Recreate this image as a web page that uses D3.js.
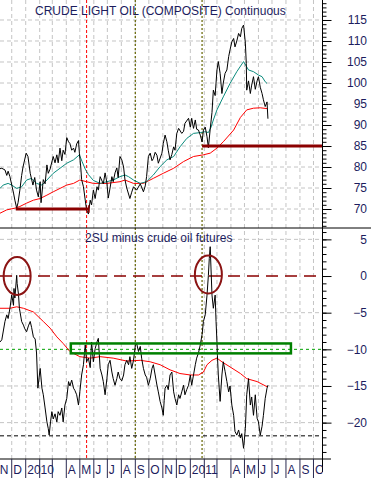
<!DOCTYPE html>
<html lang="en">
<head>
<meta charset="UTF-8">
<title>Crude light oil and 2SU minus crude</title>
<style>
  body { margin: 0; background: #fff; }
  svg text { font-family: 'Liberation Sans', Arial, Helvetica, sans-serif; font-size: 12px; fill: #1c1c5e; }
</style>
</head>
<body>
<div id="chart"></div>
<script src="https://d3js.org/d3.v7.min.js"></script>
<script>
// ---- data ----
var crudePrice = [
  ["2009-11-05",79.6],["2009-11-09",79.7],["2009-11-16",79.3],["2009-11-20",78.0],["2009-11-23",79.0],["2009-11-27",77.7],
  ["2009-12-05",73.8],["2009-12-08",72.1],["2009-12-12",70.2],["2009-12-15",71.5],["2009-12-19",74.5],["2009-12-23",78.0],
  ["2009-12-26",80.0],["2010-01-02",83.3],["2010-01-06",82.5],["2010-01-11",78.5],["2010-01-17",75.7],["2010-01-21",77.5],
  ["2010-01-25",74.5],["2010-01-29",72.9],["2010-02-02",76.5],["2010-02-04",71.5],["2010-02-09",77.0],["2010-02-13",76.0],
  ["2010-02-17",80.5],["2010-02-20",78.5],["2010-02-24",79.5],["2010-03-03",82.5],["2010-03-07",81.0],["2010-03-11",82.9],
  ["2010-03-14",81.0],["2010-03-18",84.5],["2010-03-22",81.5],["2010-03-25",84.0],["2010-03-29",83.0],["2010-04-02",87.0],
  ["2010-04-06",86.0],["2010-04-09",85.6],["2010-04-13",84.0],["2010-04-17",84.5],["2010-04-20",83.5],["2010-04-24",85.5],
  ["2010-04-28",86.3],["2010-04-30",83.3],["2010-05-03",80.0],["2010-05-05",77.0],["2010-05-09",75.3],["2010-05-13",72.1],
  ["2010-05-16",69.8],["2010-05-20",68.8],["2010-05-24",72.1],["2010-05-27",71.0],["2010-05-31",74.5],["2010-06-04",72.5],
  ["2010-06-08",75.3],["2010-06-11",74.5],["2010-06-15",77.7],["2010-06-22",76.0],["2010-06-26",78.6],["2010-06-30",76.2],
  ["2010-07-03",72.6],["2010-07-07",75.0],["2010-07-11",77.7],["2010-07-14",76.5],["2010-07-18",78.6],["2010-07-22",79.8],
  ["2010-07-25",77.5],["2010-07-29",82.5],["2010-08-02",81.7],["2010-08-06",80.0],["2010-08-09",77.0],["2010-08-13",75.0],
  ["2010-08-20",72.5],["2010-08-24",74.0],["2010-08-28",75.3],["2010-09-04",74.5],["2010-09-12",76.0],["2010-09-19",74.1],
  ["2010-09-23",75.5],["2010-09-26",77.7],["2010-09-30",82.5],["2010-10-04",83.3],["2010-10-08",81.5],["2010-10-11",82.0],
  ["2010-10-15",83.5],["2010-10-19",82.8],["2010-10-22",80.9],["2010-10-30",83.3],["2010-11-02",85.6],["2010-11-06",87.6],
  ["2010-11-10",86.0],["2010-11-13",84.0],["2010-11-17",81.7],["2010-11-21",83.0],["2010-11-25",84.8],["2010-11-28",84.0],
  ["2010-12-02",88.0],["2010-12-06",89.2],["2010-12-13",88.0],["2010-12-17",88.5],["2010-12-20",90.4],["2010-12-28",91.6],
  ["2011-01-01",89.5],["2011-01-04",91.6],["2011-01-08",89.2],["2011-01-12",91.2],["2011-01-15",89.0],["2011-01-19",88.8],
  ["2011-01-23",87.6],["2011-01-27",86.0],["2011-01-30",88.8],["2011-02-03",89.5],["2011-02-07",87.2],["2011-02-10",84.6],
  ["2011-02-14",89.0],["2011-02-18",93.0],["2011-02-21",98.3],["2011-02-25",97.0],["2011-03-01",103.1],["2011-03-04",105.1],
  ["2011-03-08",102.3],["2011-03-12",97.5],["2011-03-15",100.0],["2011-03-19",102.3],["2011-03-23",103.1],["2011-03-27",106.3],
  ["2011-03-30",107.9],["2011-04-03",109.8],["2011-04-07",110.6],["2011-04-10",108.6],["2011-04-14",110.0],["2011-04-18",111.8],
  ["2011-04-22",111.0],["2011-04-25",113.0],["2011-04-29",113.8],["2011-05-03",109.5],["2011-05-05",104.7],["2011-05-06",98.3],
  ["2011-05-10",100.5],["2011-05-14",97.5],["2011-05-17",99.5],["2011-05-21",101.5],["2011-05-25",98.5],["2011-05-29",100.5],
  ["2011-06-01",101.5],["2011-06-05",99.0],["2011-06-09",97.5],["2011-06-12",96.0],["2011-06-16",94.4],["2011-06-20",95.5],
  ["2011-06-22",91.5]
];

var crudeShortMA = [
  ["2009-11-05",74.9],["2009-11-12",75.7],["2009-11-23",76.1],["2009-12-01",75.7],["2009-12-12",74.9],["2009-12-23",75.3],
  ["2010-01-03",76.9],["2010-01-14",77.3],["2010-01-25",76.1],["2010-02-06",75.7],["2010-02-17",76.9],["2010-03-03",78.5],
  ["2010-03-18",79.7],["2010-04-02",80.9],["2010-04-17",81.7],["2010-04-30",82.9],["2010-05-06",81.3],["2010-05-13",79.5],
  ["2010-05-20",78.2],["2010-05-31",76.8],["2010-06-15",76.1],["2010-06-30",76.5],["2010-07-14",76.9],["2010-07-29",77.7],
  ["2010-08-09",78.1],["2010-08-17",77.7],["2010-08-28",76.9],["2010-09-12",76.1],["2010-09-26",76.5],["2010-10-11",78.1],
  ["2010-10-26",80.1],["2010-11-10",81.7],["2010-11-25",82.5],["2010-12-09",84.8],["2010-12-24",86.8],["2011-01-08",88.0],
  ["2011-01-23",88.2],["2011-02-03",88.4],["2011-02-10",88.2],["2011-02-16",89.5],["2011-02-21",91.2],["2011-03-01",93.6],
  ["2011-03-15",96.7],["2011-03-30",99.9],["2011-04-14",102.7],["2011-04-29",105.1],["2011-05-10",103.1],["2011-05-21",102.7],
  ["2011-06-01",101.9],["2011-06-09",101.5],["2011-06-16",100.3],["2011-06-20",99.9]
];

var crudeLongMA = [
  ["2009-11-05",69.0],["2009-11-20",69.8],["2009-12-08",70.2],["2009-12-19",70.6],["2010-01-03",71.4],["2010-01-18",72.1],
  ["2010-02-02",72.5],["2010-02-17",73.3],["2010-03-03",74.1],["2010-03-18",74.9],["2010-04-02",75.7],["2010-04-17",76.1],
  ["2010-05-01",76.9],["2010-05-16",76.5],["2010-05-31",76.1],["2010-06-30",76.1],["2010-07-29",76.5],["2010-08-09",76.9],
  ["2010-08-28",76.1],["2010-09-19",76.1],["2010-10-11",77.3],["2010-11-02",78.5],["2010-11-25",79.7],["2010-12-17",81.3],
  ["2011-01-08",82.5],["2011-01-30",82.9],["2011-02-14",83.3],["2011-03-01",84.5],["2011-03-15",86.0],["2011-04-07",88.8],
  ["2011-04-22",91.8],["2011-05-06",93.6],["2011-05-21",94.0],["2011-06-05",94.1],["2011-06-20",93.9]
];

var spread = [
  ["2009-11-05",-9.0],["2009-11-09",-8.7],["2009-11-16",-6.2],["2009-11-20",-5.3],["2009-11-23",-5.8],["2009-11-27",-4.4],
  ["2009-12-01",-2.6],["2009-12-05",-4.0],["2009-12-06",-1.7],["2009-12-08",-3.0],["2009-12-12",0.1],["2009-12-13",-1.0],
  ["2009-12-16",-2.5],["2009-12-18",-4.4],["2009-12-23",-6.2],["2009-12-27",-6.7],["2009-12-30",-7.2],["2010-01-03",-7.6],
  ["2010-01-07",-6.8],["2010-01-11",-6.2],["2010-01-14",-7.0],["2010-01-18",-8.3],["2010-01-22",-8.6],["2010-01-25",-10.5],
  ["2010-01-28",-15.3],["2010-02-02",-12.6],["2010-02-06",-15.3],["2010-02-09",-16.2],["2010-02-13",-18.0],["2010-02-17",-19.9],
  ["2010-02-20",-20.8],["2010-02-22",-21.7],["2010-02-25",-19.9],["2010-02-28",-18.5],["2010-03-03",-19.5],["2010-03-07",-18.8],
  ["2010-03-11",-19.9],["2010-03-14",-18.5],["2010-03-18",-19.0],["2010-03-22",-18.0],["2010-03-25",-19.9],["2010-03-29",-17.6],
  ["2010-04-02",-16.7],["2010-04-06",-14.4],["2010-04-09",-15.0],["2010-04-13",-14.2],["2010-04-17",-15.3],["2010-04-20",-15.6],
  ["2010-04-24",-16.2],["2010-04-28",-17.6],["2010-05-01",-15.8],["2010-05-05",-13.5],["2010-05-09",-12.1],["2010-05-13",-9.4],
  ["2010-05-16",-11.7],["2010-05-20",-11.2],["2010-05-24",-12.5],["2010-05-27",-9.0],["2010-05-31",-11.7],["2010-06-04",-9.9],
  ["2010-06-08",-9.0],["2010-06-11",-8.5],["2010-06-15",-12.6],["2010-06-19",-13.5],["2010-06-22",-14.4],["2010-06-26",-16.2],
  ["2010-06-30",-14.0],["2010-07-03",-12.1],["2010-07-07",-11.5],["2010-07-11",-13.1],["2010-07-14",-14.0],["2010-07-18",-14.9],
  ["2010-07-22",-14.0],["2010-07-25",-13.1],["2010-07-29",-14.0],["2010-08-02",-14.3],["2010-08-06",-13.5],["2010-08-09",-12.1],
  ["2010-08-13",-11.5],["2010-08-17",-12.1],["2010-08-20",-11.0],["2010-08-24",-12.6],["2010-08-28",-11.5],["2010-09-01",-9.5],
  ["2010-09-04",-9.2],["2010-09-08",-10.3],["2010-09-12",-9.6],["2010-09-15",-11.2],["2010-09-19",-12.6],["2010-09-23",-13.5],
  ["2010-09-26",-13.8],["2010-09-30",-14.9],["2010-10-04",-14.0],["2010-10-08",-12.6],["2010-10-11",-12.1],["2010-10-15",-13.5],
  ["2010-10-19",-14.9],["2010-10-22",-15.8],["2010-10-26",-17.1],["2010-10-30",-18.0],["2010-11-02",-19.0],["2010-11-04",-17.0],
  ["2010-11-06",-15.3],["2010-11-10",-14.9],["2010-11-13",-15.5],["2010-11-17",-13.5],["2010-11-21",-13.1],["2010-11-25",-15.8],
  ["2010-11-28",-16.7],["2010-12-02",-17.6],["2010-12-06",-16.2],["2010-12-09",-16.7],["2010-12-13",-15.8],["2010-12-17",-14.9],
  ["2010-12-20",-16.2],["2010-12-24",-15.5],["2010-12-28",-14.9],["2011-01-01",-13.5],["2011-01-04",-14.9],["2011-01-08",-13.5],
  ["2011-01-12",-12.1],["2011-01-15",-11.2],["2011-01-19",-10.5],["2011-01-23",-9.4],["2011-01-27",-8.0],["2011-01-30",-6.2],
  ["2011-02-03",-5.3],["2011-02-07",-2.6],["2011-02-10",0.1],["2011-02-12",2.4],["2011-02-14",4.0],["2011-02-18",-2.6],
  ["2011-02-21",-4.4],["2011-02-25",-2.6],["2011-02-27",-6.2],["2011-03-01",-9.0],["2011-03-02",-10.8],["2011-03-04",-13.5],
  ["2011-03-08",-17.1],["2011-03-12",-13.5],["2011-03-15",-11.7],["2011-03-19",-13.0],["2011-03-23",-14.4],["2011-03-27",-15.8],
  ["2011-03-30",-15.0],["2011-04-03",-17.6],["2011-04-07",-19.0],["2011-04-10",-21.2],["2011-04-14",-21.7],["2011-04-18",-21.0],
  ["2011-04-22",-22.1],["2011-04-25",-21.5],["2011-04-29",-23.5],["2011-05-03",-20.8],["2011-05-06",-16.2],["2011-05-10",-14.0],
  ["2011-05-14",-17.6],["2011-05-17",-16.5],["2011-05-21",-19.0],["2011-05-25",-16.2],["2011-05-29",-19.4],["2011-06-01",-19.9],
  ["2011-06-05",-21.7],["2011-06-09",-20.5],["2011-06-12",-19.0],["2011-06-16",-16.7],["2011-06-20",-15.3],["2011-06-22",-14.9]
];

var spreadMA = [
  ["2009-11-05",-4.4],["2009-11-27",-4.4],["2009-12-12",-4.2],["2009-12-27",-4.4],["2010-01-18",-4.9],["2010-02-09",-6.2],
  ["2010-02-24",-7.1],["2010-03-11",-8.3],["2010-03-25",-9.2],["2010-04-09",-10.3],["2010-05-01",-11.0],["2010-05-24",-11.2],
  ["2010-06-15",-11.0],["2010-07-14",-11.2],["2010-08-13",-11.6],["2010-09-12",-11.5],["2010-10-04",-11.7],["2010-10-26",-12.1],
  ["2010-11-17",-12.8],["2010-12-09",-13.3],["2011-01-01",-13.5],["2011-01-19",-13.5],["2011-01-30",-13.1],["2011-02-07",-12.1],
  ["2011-02-18",-11.5],["2011-03-01",-11.2],["2011-03-12",-11.7],["2011-03-30",-12.4],["2011-04-22",-13.3],["2011-05-06",-14.0],
  ["2011-05-29",-14.4],["2011-06-20",-15.1]
];

// axis ticks and month labels
var topTicks = [70, 75, 80, 85, 90, 95, 100, 105, 110, 115];
var bottomTicks = [-20, -15, -10, -5, 0, 5];
var monthLabels = ["N","D","2010","","","A","M","J","J","A","S","O","N","D","2011","","","A","M","J","J","A","S","O"];

// annotations
var supportLines = [["2009-12-10","2010-05-21",70], ["2011-01-27","2011-10-21",85]];
var markerDates = {red: ["2010-05-16"], olive: ["2010-09-01","2011-01-27"]};
var circledPeaks = [["2009-12-13",0], ["2011-02-10",0.2]];
var boxRange = ["2010-04-11","2011-08-12",-9.2,-10.55];
var levelZero = 0, levelTen = -10, levelLow = -21.8;

// ---- chart ----
var W = 371, H = 478, plotR = 322.5, midY = 228, botY = 459;
var parse = d3.timeParse("%Y-%m-%d");

var svg = d3.select("#chart").append("svg")
  .attr("width", W).attr("height", H);
svg.append("rect").attr("width", W).attr("height", H).attr("fill", "#fff");

svg.append("clipPath").attr("id", "plot")
  .append("rect").attr("x", 0).attr("y", 0).attr("width", plotR).attr("height", H);

var x = d3.scaleTime()
  .domain([parse("2009-11-05"), parse("2011-10-21")])
  .range([0, plotR]);
var yTop = d3.scaleLinear().domain([65.48, 119.76]).range([midY, 0]);
var yBot = d3.scaleLinear().domain([-24.96, 6.55]).range([botY, midY]);

var months = d3.timeMonth.range(parse("2009-11-01"), parse("2011-11-01"));
var plot = svg.append("g").attr("clip-path", "url(#plot)");

// grid
plot.selectAll(".vgrid").data(months).join("line")
  .attr("x1", d => x(d)).attr("x2", d => x(d))
  .attr("y1", 0).attr("y2", botY)
  .attr("stroke", "#c4c4c4").attr("stroke-dasharray", "4,3");
plot.selectAll(".hgridTop").data(topTicks).join("line")
  .attr("x1", 0).attr("x2", plotR)
  .attr("y1", d => yTop(d)).attr("y2", d => yTop(d))
  .attr("stroke", "#c4c4c4").attr("stroke-dasharray", "4,3");
plot.selectAll(".hgridBot").data([5, -5, -15, -20]).join("line")
  .attr("x1", 0).attr("x2", plotR)
  .attr("y1", d => yBot(d)).attr("y2", d => yBot(d))
  .attr("stroke", "#c4c4c4").attr("stroke-dasharray", "4,3");

// event markers
plot.selectAll(".redv").data(markerDates.red).join("line")
  .attr("x1", d => x(parse(d))).attr("x2", d => x(parse(d)))
  .attr("y1", 0).attr("y2", botY)
  .attr("stroke", "#ff0000").attr("stroke-dasharray", "3,2");
plot.selectAll(".olivev").data(markerDates.olive).join("line")
  .attr("x1", d => x(parse(d))).attr("x2", d => x(parse(d)))
  .attr("y1", 0).attr("y2", botY)
  .attr("stroke", "#6e6e10").attr("stroke-width", 1.3).attr("stroke-dasharray", "2,2");

// bottom panel reference lines
plot.append("line").attr("x1", 0).attr("x2", plotR)
  .attr("y1", yBot(levelZero)).attr("y2", yBot(levelZero))
  .attr("stroke", "#8b0000").attr("stroke-width", 1.3).attr("stroke-dasharray", "12,7");
plot.append("line").attr("x1", 0).attr("x2", plotR)
  .attr("y1", yBot(levelTen)).attr("y2", yBot(levelTen))
  .attr("stroke", "#00a000").attr("stroke-dasharray", "3,3");
plot.append("line").attr("x1", 0).attr("x2", plotR)
  .attr("y1", yBot(levelLow)).attr("y2", yBot(levelLow))
  .attr("stroke", "#000").attr("stroke-dasharray", "4,3");

// series
var lineTop = d3.line().x(d => x(parse(d[0]))).y(d => yTop(d[1]));
var lineBot = d3.line().x(d => x(parse(d[0]))).y(d => yBot(d[1]));

plot.append("path").datum(crudeLongMA).attr("d", lineTop)
  .attr("fill", "none").attr("stroke", "#ff0000");
plot.append("path").datum(crudeShortMA).attr("d", lineTop)
  .attr("fill", "none").attr("stroke", "#0b8a7c");
plot.append("path").datum(crudePrice).attr("d", lineTop)
  .attr("fill", "none").attr("stroke", "#000");

plot.append("path").datum(spreadMA).attr("d", lineBot)
  .attr("fill", "none").attr("stroke", "#ff0000");
plot.append("path").datum(spread).attr("d", lineBot)
  .attr("fill", "none").attr("stroke", "#000");

// support lines in top panel
plot.selectAll(".support").data(supportLines).join("line")
  .attr("x1", d => x(parse(d[0]))).attr("x2", d => Math.min(plotR, x(parse(d[1]))))
  .attr("y1", d => yTop(d[2])).attr("y2", d => yTop(d[2]))
  .attr("stroke", "#8b0000").attr("stroke-width", 3);
plot.append("line")
  .attr("x1", x(parse(supportLines[0][1]))).attr("x2", x(parse(supportLines[0][1])))
  .attr("y1", yTop(supportLines[0][2] + 0.9)).attr("y2", yTop(supportLines[0][2] - 0.9))
  .attr("stroke", "#8b0000").attr("stroke-width", 1.5);

// circles and box in bottom panel
plot.selectAll(".peak").data(circledPeaks).join("ellipse")
  .attr("cx", d => x(parse(d[0]))).attr("cy", d => yBot(d[1]))
  .attr("rx", 13.5).attr("ry", 19)
  .attr("fill", "none").attr("stroke", "#8b1414").attr("stroke-width", 2);
plot.append("rect")
  .attr("x", x(parse(boxRange[0])))
  .attr("y", yBot(boxRange[2]))
  .attr("width", x(parse(boxRange[1])) - x(parse(boxRange[0])))
  .attr("height", yBot(boxRange[3]) - yBot(boxRange[2]))
  .attr("fill", "none").attr("stroke", "#008000").attr("stroke-width", 2.5);

// panel titles
svg.append("text").attr("x", 35).attr("y", 15).text("CRUDE LIGHT OIL (COMPOSITE) Continuous");
svg.append("text").attr("x", 85).attr("y", 242).text("2SU minus crude oil futures");

// frame lines
svg.append("line").attr("x1", 0).attr("x2", W).attr("y1", midY).attr("y2", midY).attr("stroke", "#000");
svg.append("line").attr("x1", 0).attr("x2", 331).attr("y1", botY).attr("y2", botY).attr("stroke", "#000");
svg.append("line").attr("x1", plotR).attr("x2", plotR).attr("y1", 0).attr("y2", 472).attr("stroke", "#000");

// right axes: major ticks with labels, minor ticks every unit
function rightAxis(scale, major, lo, hi) {
  var g = svg.append("g").attr("transform", "translate(" + plotR + ",0)");
  g.call(d3.axisRight(scale).tickValues(d3.range(lo, hi + 1)).tickSize(4).tickFormat(""))
    .call(a => a.select(".domain").remove());
  var m = svg.append("g").attr("transform", "translate(" + plotR + ",0)");
  m.call(d3.axisRight(scale).tickValues(major).tickSize(9).tickPadding(0))
    .call(a => a.select(".domain").remove());
  m.selectAll("text")
    .attr("x", 44.5).attr("text-anchor", "end")
    .attr("font-size", 12).attr("font-family", "'Liberation Sans', Arial, sans-serif");
  g.selectAll("line").attr("stroke", "#000");
  m.selectAll("line").attr("stroke", "#000");
}
rightAxis(yTop, topTicks, 66, 119);
rightAxis(yBot, bottomTicks, -24, 6);

// time axis: separators and month letters
svg.append("g").attr("clip-path", "url(#plot)")
  .selectAll("line").data(months).join("line")
  .attr("x1", d => x(d)).attr("x2", d => x(d))
  .attr("y1", botY).attr("y2", H)
  .attr("stroke", "#2a2a50");
svg.append("g").attr("clip-path", "url(#plot)")
  .selectAll("text").data(months).join("text")
  .attr("x", d => x(d) + 1.5)
  .attr("y", 474)
  .text((d, i) => monthLabels[i] || "");
</script>
</body>
</html>
